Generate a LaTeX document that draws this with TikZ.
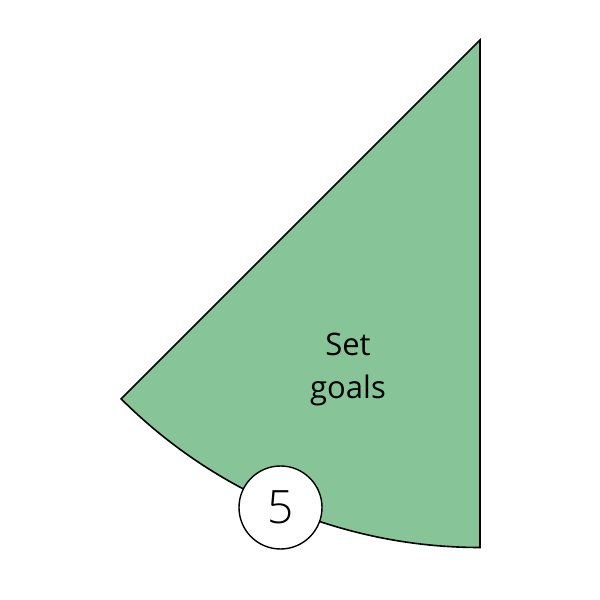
\documentclass[tikz,border=0pt]{standalone}
\usepackage{fontspec}
\setmainfont{Open Sans}
\newfontfamily\numfont{Open Sans Light}
\definecolor{sectorgreen}{HTML}{87C598}
\begin{document}
\begin{tikzpicture}[x=1pt,y=1pt,
  sector/.style={draw=black, line width=1.6pt, fill=sectorgreen, line join=miter},
  badge/.style={circle, draw=black, line width=1.4pt, fill=white, minimum size=83pt, inner sep=0pt},
  label/.style={align=center, font=\fontsize{31}{43}\selectfont, inner sep=0pt}]
\useasboundingbox (0,0) rectangle (600,600);
\coordinate (apex) at (480,560);
\draw[sector] (apex) -- ++(225:507.5) arc[start angle=225, end angle=270, radius=507.5] -- cycle;
\node[label] (txt) at (348,230) {Set\\goals};
\node[badge] (num) at (280.5,92.5) {\numfont\fontsize{46}{46}\selectfont 5};
\end{tikzpicture}
\end{document}
